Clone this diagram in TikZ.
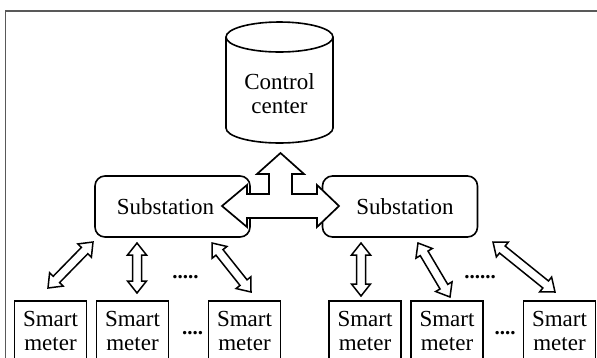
\documentclass[tikz,border=0pt]{standalone}
\usepackage{fontspec}
\setmainfont{Liberation Serif}
\usetikzlibrary{calc}

\newcommand\twoway[2]{%
  \draw[link] (#1)
    -- ($(#1)!12pt!(#2)!9.5pt!90:(#2)$) -- ($(#1)!12pt!(#2)!4.5pt!90:(#2)$)
    -- ($(#2)!12pt!(#1)!4.5pt!-90:(#1)$) -- ($(#2)!12pt!(#1)!9.5pt!-90:(#1)$)
    -- (#2)
    -- ($(#2)!12pt!(#1)!9.5pt!90:(#1)$) -- ($(#2)!12pt!(#1)!4.5pt!90:(#1)$)
    -- ($(#1)!12pt!(#2)!4.5pt!-90:(#2)$) -- ($(#1)!12pt!(#2)!9.5pt!-90:(#2)$)
    -- cycle;}

\tikzset{
  station/.style={draw, line width=1.6pt, rounded corners=10pt,
    minimum width=155pt, minimum height=61pt},
  meter/.style={draw, line width=1.6pt, minimum width=72pt,
    minimum height=59pt, align=center, inner sep=0pt},
  link/.style={fill=white, line width=1.5pt},
  hub/.style={fill=white, line width=1.7pt},
  more/.style={font=\fontsize{21}{24}\selectfont\bfseries, inner sep=0pt}
}

\begin{document}
\begin{tikzpicture}[x=1pt, y=-1pt, font=\fontsize{23}{24}\selectfont]
  \useasboundingbox (0,0) rectangle (597,357);
  \draw[black!65, line width=1.6pt] (5.5,362) -- (5.5,11) -- (602,11);
  % control center
  \draw[line width=1.6pt] (226,37) -- (226,128)
    arc[start angle=180, end angle=360, x radius=53.5pt, y radius=15pt] -- (333,37);
  \draw[line width=1.6pt] (279.5,37) ellipse [x radius=53.5pt, y radius=15pt];
  \node[align=center] (cc) at (279.5,94) {Control\\center};
  % substations
  \node[station, label={[xshift=-7pt]center:Substation}] (sub1) at (172.5,206.5) {};
  \node[station, label={[xshift=5pt]center:Substation}] (sub2) at (400,206.5) {};
  \draw[hub] (222,206) -- (247,185) -- (247,194) -- (269,194) -- (269,174)
    -- (257,174) -- (280.5,153) -- (304,174) -- (292,174) -- (292,194)
    -- (317,194) -- (317,185) -- (339,206) -- (317,227) -- (317,218)
    -- (247,218) -- (247,227) -- cycle;
  % smart meters
  \foreach \x [count=\i] in {50.5,132.5,244.5,365,447,559.5}
    \node[meter] (m\i) at (\x,330.5) {Smart\\meter};
  \node[more] (d1) at (185.5,277) {.....};
  \node[more] (d2) at (480,277) {......};
  \node[more] (d3) at (192.5,333) {....};
  \node[more] (d4) at (505,333) {....};
  % links
  \coordinate (u1) at (93,242);  \coordinate (v1) at (48,288);
  \coordinate (u2) at (137,243); \coordinate (v2) at (137,293);
  \coordinate (u3) at (212,243); \coordinate (v3) at (251,292);
  \coordinate (u4) at (361,243); \coordinate (v4) at (361,296);
  \coordinate (u5) at (418,243); \coordinate (v5) at (450,297);
  \coordinate (u6) at (493,242); \coordinate (v6) at (555,292);
  \foreach \i in {1,...,6}
    \twoway{u\i}{v\i};
\end{tikzpicture}
\end{document}
